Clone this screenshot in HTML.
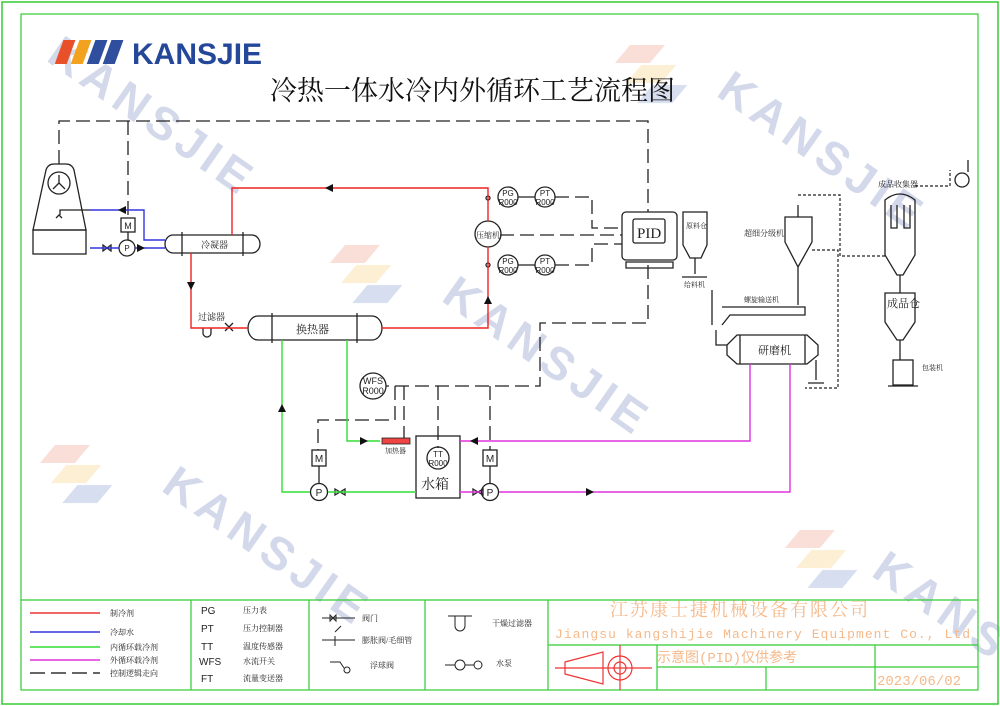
<!DOCTYPE html>
<html><head><meta charset="utf-8"><style>
html,body{margin:0;padding:0;background:#fff}
svg{display:block}
text{font-family:"Liberation Serif","Noto Serif CJK SC",serif}
text.s{font-family:"Liberation Sans","Noto Sans CJK SC",sans-serif}
text.m{font-family:"Liberation Mono","Noto Sans CJK SC",monospace}
</style></head><body>
<svg width="1000" height="706" viewBox="0 0 1000 706" xmlns="http://www.w3.org/2000/svg">
<!-- watermarks -->
<g fill="#d3d9ea" font-weight="bold" font-size="46" letter-spacing="6">
<text class="s" transform="translate(45,60) rotate(35)">KANSJIE</text>
<text class="s" transform="translate(715,95) rotate(35)">KANSJIE</text>
<text class="s" transform="translate(440,300) rotate(35)">KANSJIE</text>
<text class="s" transform="translate(160,490) rotate(35)">KANSJIE</text>
<text class="s" transform="translate(870,575) rotate(35)">KANSJIE</text>
</g>
<g opacity="0.35">
<g transform="translate(345,245) skewX(-40)"><rect x="0" y="0" width="35" height="18" fill="#f0a090"/><rect x="28" y="20" width="35" height="18" fill="#f5d080"/><rect x="56" y="40" width="35" height="18" fill="#8aa0d0"/></g>
<g transform="translate(55,445) skewX(-40)"><rect x="0" y="0" width="35" height="18" fill="#f0a090"/><rect x="28" y="20" width="35" height="18" fill="#f5d080"/><rect x="56" y="40" width="35" height="18" fill="#8aa0d0"/></g>
<g transform="translate(630,45) skewX(-40)"><rect x="0" y="0" width="35" height="18" fill="#f0a090"/><rect x="28" y="20" width="35" height="18" fill="#f5d080"/><rect x="56" y="40" width="35" height="18" fill="#8aa0d0"/></g>
<g transform="translate(800,530) skewX(-40)"><rect x="0" y="0" width="35" height="18" fill="#f0a090"/><rect x="28" y="20" width="35" height="18" fill="#f5d080"/><rect x="56" y="40" width="35" height="18" fill="#8aa0d0"/></g>
</g>
<!-- frames -->
<rect x="2" y="2" width="996" height="702" fill="none" stroke="#3c3" stroke-width="1.5"/>
<rect x="21" y="14" width="957" height="676" fill="none" stroke="#3c3" stroke-width="1.2"/>
<!-- logo -->
<g transform="skewX(-20)">
<rect x="78" y="40" width="12" height="24" fill="#e8502a"/>
<rect x="94" y="40" width="12" height="24" fill="#f2a21e"/>
<rect x="110" y="40" width="12" height="24" fill="#2f4f9e"/>
<rect x="126" y="40" width="12" height="24" fill="#2f4f9e"/>
</g>
<text x="132" y="64" class="s" font-size="30" font-weight="bold" fill="#24479a">KANSJIE</text>
<text x="270" y="100" font-size="27" fill="#111">冷热一体水冷内外循环工艺流程图</text>

<g fill="none" stroke="#222" stroke-width="1.3">
<g stroke-dasharray="14,6">
<path d="M59,164 V121 H648 V212"/>
<path d="M128,121 V218"/>
<path d="M555,197 H592 V228 H622"/>
<path d="M500,235 H622"/>
<path d="M555,265 H592 V244 H622"/>
<path d="M648,265 V323 H540 V386 H386"/>
<path d="M395,386 V420 H318 V450"/>
<path d="M404,386 V438"/>
<path d="M438,386 V448"/>
<path d="M490,386 V450"/>
</g>
<path d="M33,230 L46,170 Q48,164 54,164 H66 Q72,164 74,170 L86,230 Z"/>
<rect x="33" y="230" width="53" height="24"/>
<circle cx="59" cy="183" r="11"/>
<path d="M59,183 l-6,6 M59,183 l6,6 M59,183 v-8"/>
<path d="M90,210 H60 V215 M56,218 l3,-3 3,3"/>
<path d="M173,235 H252 A8,9 0 0 1 252,253 H173 A8,9 0 0 1 173,235 Z"/>
<path d="M182,232 V256 M243,232 V256"/>
<path d="M258,316 H372 A10,12 0 0 1 372,340 H258 A10,12 0 0 1 258,316 Z"/>
<path d="M272,313 V343 M357,313 V343"/>
<rect x="121" y="218" width="14" height="14"/>
<path d="M128,232 V240"/>
<circle cx="127" cy="248" r="8"/>
<rect x="312" y="450" width="14" height="16"/>
<path d="M319,466 V484"/>
<circle cx="319" cy="492" r="8.5"/>
<rect x="483" y="450" width="14" height="16"/>
<path d="M490,466 V484"/>
<circle cx="490" cy="492" r="8.5"/>
<rect x="416" y="436" width="44" height="62"/>
<circle cx="438" cy="458" r="11"/>
<circle cx="373" cy="386" r="13"/>
<circle cx="488" cy="234" r="13"/>
<circle cx="508" cy="197" r="10"/><circle cx="545" cy="197" r="10"/>
<circle cx="508" cy="265" r="10"/><circle cx="545" cy="265" r="10"/>
<path d="M518,197 H535 M518,265 H535"/>
<circle cx="488" cy="198" r="2"/><circle cx="488" cy="265" r="2"/>
<rect x="622" y="212" width="55" height="48" rx="4"/>
<rect x="633" y="219" width="32" height="24" rx="2"/>
<path d="M626,262 h47 v6 h-47 z"/>
<path d="M683,212 H707 V245 L701,258 H690 L683,245 Z"/>
<path d="M695,258 V274 M682,277 H707"/>
<path d="M712,290 V325"/>
<path d="M785,217 H812 V242 L798,267 L785,242 Z"/>
<path d="M798,267 V305 M722,307 H805 V315 H730 L722,325"/>
<path d="M798,217 V205"/>
<path d="M737,335 H807 L818,345 V355 L807,364 H737 L727,355 V345 Z"/>
<path d="M740,335 V364 M805,335 V364"/>
<path d="M716,330 V345 H727"/>
<path d="M816,360 V380 M808,383 h16"/>
<path d="M885,200 Q900,188 915,200 V255 L903,275 H897 L885,255 Z"/>
<path d="M891,205 V228 H897 V205 M904,205 V228 H910 V205"/>
<path d="M900,275 V293"/>
<path d="M885,293 H915 V322 L903,340 H897 L885,322 Z"/>
<path d="M900,340 V360"/>
<rect x="893" y="360" width="20" height="25"/>
<path d="M888,386 h30"/>
<circle cx="962" cy="180" r="7"/>
<path d="M968,172 V160"/>
<path d="M103,245 l8,6 v-6 l-8,6 z M335,489 l10,6 v-6 l-10,6 z M473,489 l10,6 v-6 l-10,6 z"/>
<path d="M203,328 v5 a4,4 0 0 0 8,0 v-5"/>
<path d="M225,323 l8,8 M225,331 l8,-8"/>
</g>
<g fill="none" stroke="#222" stroke-width="1.2" stroke-dasharray="3,2">
<path d="M798,195 H840 V256 H885"/>
<path d="M915,186 H950 V170"/>
<path d="M812,250 H838 V388 H805"/>
</g>
<g fill="none" stroke="#33d" stroke-width="1.4">
<path d="M90,210 H144 V240 H165"/>
<path d="M90,248 H119 M135,248 H165"/>
</g>
<g fill="none" stroke="#e22" stroke-width="1.4">
<path d="M232,235 V188 H488 V221"/>
<path d="M488,247 V328 H382"/>
<path d="M191,253 V328 H248"/>
</g>
<g fill="none" stroke="#3d3" stroke-width="1.4">
<path d="M282,340 V492 H310 M328,492 H416"/>
<path d="M347,340 V441 H380"/>
</g>
<rect x="382" y="438" width="28" height="6" fill="#e44" stroke="#222" stroke-width="0.8"/>
<g fill="none" stroke="#d3d" stroke-width="1.4">
<path d="M460,441 H750 V364"/>
<path d="M460,492 H481 M499,492 H790 V364"/>
</g>
<g fill="#111">
<path d="M325,188 l8,-4 v8 z"/>
<path d="M488,296 l-4,8 h8 z"/>
<path d="M187,282 h8 l-4,8 z"/>
<path d="M282,404 l-4,8 h8 z"/>
<path d="M368,441 l-8,-4 v8 z"/>
<path d="M470,441 l8,-4 v8 z"/>
<path d="M594,492 l-8,-4 v8 z"/>
<path d="M118,210 l8,-4 v8 z"/>
<path d="M145,248 l-8,-4 v8 z"/>
</g>
<g font-size="9" fill="#222">
<text x="201" y="248">冷凝器</text>
<text x="296" y="333" font-size="11">换热器</text>
<text x="198" y="320">过滤器</text>
<text x="476" y="238" font-size="8">压缩机</text>
<text x="385" y="453" font-size="7">加热器</text>
<text x="686" y="228" font-size="7">原料仓</text>
<text x="684" y="287" font-size="7">给料机</text>
<text x="744" y="236" font-size="8">超细分级机</text>
<text x="744" y="302" font-size="7">螺旋输送机</text>
<text x="758" y="354" font-size="11">研磨机</text>
<text x="878" y="187" font-size="8">成品收集器</text>
<text x="887" y="307" font-size="11">成品仓</text>
<text x="922" y="370" font-size="7">包装机</text>
<text x="421" y="489" font-size="14">水箱</text>
<text x="637" y="238" font-size="15">PID</text>
</g>
<g font-size="8" fill="#222" text-anchor="middle">
<text class="s" x="508" y="196">PG</text><text class="s" x="508" y="205">R000</text>
<text class="s" x="545" y="196">PT</text><text class="s" x="545" y="205">R000</text>
<text class="s" x="508" y="264">PG</text><text class="s" x="508" y="273">R000</text>
<text class="s" x="545" y="264">PT</text><text class="s" x="545" y="273">R000</text>
<text class="s" x="373" y="384" font-size="9">WFS</text><text class="s" x="373" y="394" font-size="9">R000</text>
<text class="s" x="438" y="457">TT</text><text class="s" x="438" y="466">R000</text>
<text class="s" x="128" y="229" font-size="9">M</text><text class="s" x="127" y="251" font-size="8">P</text>
<text class="s" x="319" y="462" font-size="10">M</text><text class="s" x="319" y="496" font-size="10">P</text>
<text class="s" x="490" y="462" font-size="10">M</text><text class="s" x="490" y="496" font-size="10">P</text>
</g>
<g fill="none" stroke="#3c3" stroke-width="1.2">
<path d="M21,600 H978 M191,600 V690 M309,600 V690 M425,600 V690 M548,600 V690 M548,645 H978 M657,645 V690 M657,667 H978 M766,667 V690 M875,645 V690"/>
</g>
<g stroke-width="1.5">
<path d="M30,613 H100" stroke="#e33"/>
<path d="M30,632 H100" stroke="#33d"/>
<path d="M30,647 H100" stroke="#3d3"/>
<path d="M30,660 H100" stroke="#d3d"/>
<path d="M30,673 H100" stroke="#333" stroke-dasharray="15,6"/>
</g>
<g font-size="8" fill="#222">
<text x="110" y="616">制冷剂</text>
<text x="110" y="635">冷却水</text>
<text x="110" y="650">内循环载冷剂</text>
<text x="110" y="663">外循环载冷剂</text>
<text x="110" y="676">控制逻辑走向</text>
<text x="243" y="613">压力表</text>
<text x="243" y="631">压力控制器</text>
<text x="243" y="649">温度传感器</text>
<text x="243" y="664">水流开关</text>
<text x="243" y="681">流量变送器</text>
<text x="362" y="621">阀门</text>
<text x="362" y="643">膨胀阀/毛细管</text>
<text x="370" y="668">浮球阀</text>
<text x="492" y="626">干燥过滤器</text>
<text x="496" y="666">水泵</text>
</g>
<g font-size="10" fill="#222">
<text class="s" x="201" y="614">PG</text><text class="s" x="201" y="632">PT</text><text class="s" x="201" y="650">TT</text><text class="s" x="199" y="665">WFS</text><text class="s" x="201" y="682">FT</text>
</g>
<g fill="none" stroke="#222" stroke-width="1">
<path d="M322,618 H355 M330,615 l6,6 v-6 l-6,6 z"/>
<path d="M322,640 H355 M335,632 l6,-6 M335,636 v10"/>
<path d="M330,662 h10 l4,6"/><circle cx="347" cy="670" r="3"/>
<path d="M448,616 H472 M455,616 v10 a5,5 0 0 0 10,0 v-10"/>
<circle cx="460" cy="665" r="5"/><circle cx="478" cy="665" r="4"/><path d="M445,665 h10 M465,665 h9"/>
</g>
<g stroke="#e33" fill="none" stroke-width="1.2">
<path d="M555,668 H652 M620,645 V690"/>
<path d="M565,662 L603,652 V684 L565,674 Z"/>
<circle cx="620" cy="668" r="12"/><circle cx="620" cy="668" r="6"/>
</g>
<g fill="#f5b98a">
<text x="610" y="616" font-size="18" letter-spacing="2">江苏康士捷机械设备有限公司</text>
<text class="m" x="555" y="638" font-size="13" textLength="415">Jiangsu kangshijie Machinery Equipment Co., Ltd</text>
<text class="m" x="657" y="662" font-size="14">示意图(PID)仅供参考</text>
<text class="m" x="877" y="685" font-size="14">2023/06/02</text>
</g>
</svg>
</body></html>
